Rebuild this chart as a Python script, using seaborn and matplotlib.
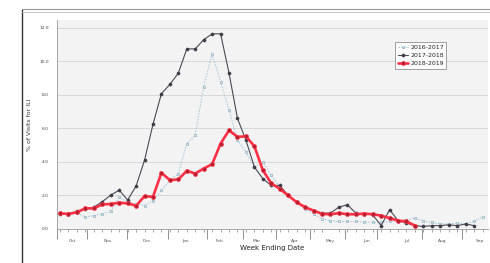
import pandas as pd
import matplotlib
matplotlib.use("Agg")
import matplotlib.pyplot as plt
import seaborn as sns
from matplotlib.lines import Line2D

# % of visits for ILI by week of the season (week 40 onward)
ili_2016_2017 = [0.9, 0.85, 0.95, 0.72, 0.8, 0.9, 1.05, 1.9, 1.6, 1.5,
                 1.4, 1.7, 2.3, 2.9, 3.3, 5.1, 5.6, 8.5, 10.45, 8.8,
                 7.1, 5.3, 4.6, 3.7, 4.0, 3.2, 2.5, 2.0, 1.6, 1.2,
                 0.9, 0.6, 0.5, 0.45, 0.45, 0.45, 0.42, 0.4, 0.4, 0.45,
                 0.5, 0.55, 0.64, 0.5, 0.4, 0.3, 0.3, 0.35, 0.3, 0.45, 0.73]
ili_2017_2018 = [0.9, 0.9, 1.05, 1.2, 1.3, 1.63, 2.02, 2.32, 1.73, 2.56,
                 4.1, 6.25, 8.08, 8.63, 9.3, 10.75, 10.75, 11.3, 11.65, 11.65,
                 9.3, 6.6, 5.3, 3.7, 3.0, 2.6, 2.6, 2.0, 1.6, 1.3,
                 1.1, 0.95, 0.95, 1.3, 1.45, 0.95, 0.9, 0.85, 0.2, 1.15,
                 0.5, 0.35, 0.2, 0.15, 0.2, 0.2, 0.25, 0.2, 0.3, 0.2]
ili_2018_2019 = [0.93, 0.9, 1.0, 1.23, 1.23, 1.47, 1.49, 1.57, 1.53, 1.39,
                 1.96, 1.92, 3.35, 2.92, 2.96, 3.47, 3.31, 3.61, 3.87, 5.1,
                 5.89, 5.5, 5.53, 4.94, 3.51, 2.72, 2.4, 2.0, 1.6, 1.3,
                 1.1, 0.9, 0.88, 0.95, 0.88, 0.88, 0.92, 0.88, 0.8, 0.65,
                 0.5, 0.45, 0.2]

months = ["Oct", "Nov", "Dec", "Jan", "Feb", "Mar",
          "Apr", "May", "Jun", "Jul", "Aug", "Sep"]
month_pos = [1.5, 5.7, 10.3, 14.8, 18.9, 23.3, 27.8, 32.0, 36.3, 41.1, 45.2, 49.7]
month_bounds = [-0.36, 3.2, 7.9, 12.8, 17.4, 21.6, 25.6, 29.6, 33.7, 37.5, 42.8, 47.6]
y_ticks = [0, 2, 4, 6, 8, 10, 12]

frames = []
for name, vals in [("2016-2017", ili_2016_2017),
                   ("2017-2018", ili_2017_2018),
                   ("2018-2019", ili_2018_2019)]:
    frames.append(pd.DataFrame({"week": range(len(vals)), "ili": vals, "season": name}))
df = pd.concat(frames, ignore_index=True)

sns.set_style("white")
fig = plt.figure(figsize=(4.9, 2.63), dpi=100)
ax = fig.add_axes([0.1163, 0.1293, 0.8797, 0.795])
ax.set_facecolor("#f3f3f3")

styles = {
    "2016-2017": dict(color="#9cc3d8", lw=0.7, ls=(0, (1.5, 1.5)), marker="s", ms=2,
                      mfc="#e6eef2", mec="#8fb0c0", mew=0.5, zorder=2),
    "2017-2018": dict(color="#4a4a56", lw=0.8, ls="-", marker="o", ms=2.3,
                      mfc="#3c3c48", mec="#3c3c48", mew=0.3, zorder=3),
    "2018-2019": dict(color="#ff3045", lw=1.9, ls="-", marker="o", ms=2.8,
                      mfc="#b0202e", mec="#ff3045", mew=0.5, zorder=4),
}
for season, st in styles.items():
    sub = df[df["season"] == season]
    sns.lineplot(data=sub, x="week", y="ili", ax=ax, color=st["color"], lw=st["lw"],
                 linestyle=st["ls"], marker=st["marker"], markersize=st["ms"],
                 markerfacecolor=st["mfc"], markeredgecolor=st["mec"],
                 markeredgewidth=st["mew"], zorder=st["zorder"], legend=False)

ax.set_xlim(-0.36, 50.65)
ax.set_ylim(0, 12.48)
ax.set_yticks(y_ticks)
ax.set_yticklabels([f"{v:.1f}" for v in y_ticks], fontsize=3.2, color="#444444")
ax.yaxis.grid(True, color="#d8d8d8", lw=0.7)
ax.xaxis.grid(False)
ax.set_axisbelow(True)

ax.set_xticks(month_pos)
ax.set_xticklabels(months, fontsize=3.2, color="#555555")
ax.set_xticks(range(51), minor=True)
ax.tick_params(axis="x", which="major", length=0, pad=7)
ax.tick_params(axis="x", which="minor", length=2.5, width=0.4, color="#666666", bottom=True)
ax.tick_params(axis="y", length=0, pad=6)

sec = ax.secondary_xaxis("bottom")
sec.set_xticks(month_bounds)
sec.tick_params(length=7, width=0.5, color="#666666", labelbottom=False)
sec.spines["bottom"].set_visible(False)

for side in ["top", "right"]:
    ax.spines[side].set_visible(False)
ax.spines["left"].set_color("#9a9a9a")
ax.spines["left"].set_linewidth(0.6)
ax.spines["bottom"].set_color("#9a9a9a")
ax.spines["bottom"].set_linewidth(0.6)

ax.set_xlabel("Week Ending Date", fontsize=5, color="#222222", labelpad=2)
ax.set_ylabel("% of Visits for ILI", fontsize=4.5, color="#333333", labelpad=5)

handles = []
for season, st in styles.items():
    handles.append(Line2D([], [], color=st["color"], lw=st["lw"], ls=st["ls"],
                          marker=st["marker"], ms=st["ms"], mfc=st["mfc"],
                          mec=st["mec"], mew=st["mew"], label=season))
leg = ax.legend(handles=handles, loc="upper left", bbox_to_anchor=(0.777, 0.91),
                fontsize=4.5, frameon=True, fancybox=False, edgecolor="#777777",
                handlelength=1.6, borderpad=0.4, labelspacing=0.45, handletextpad=0.4)
leg.get_frame().set_linewidth(0.6)

# outer frame of the figure box
fig.add_artist(Line2D([22 / 490, 22 / 490], [0, 1 - 10 / 263], color="#333333", lw=1.0))
fig.add_artist(Line2D([22 / 490, 1], [1 - 9 / 263, 1 - 9 / 263], color="#999999", lw=0.8))
fig.add_artist(Line2D([22 / 490, 1], [1 - 11.5 / 263, 1 - 11.5 / 263], color="#bbbbbb", lw=0.6))

fig.savefig("out.png", dpi=100)
